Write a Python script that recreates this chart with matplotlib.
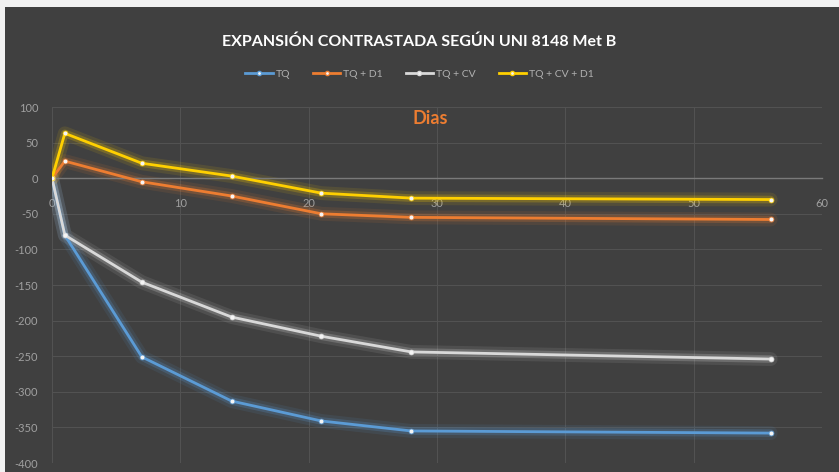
import matplotlib
matplotlib.use("Agg")
import matplotlib.pyplot as plt
from matplotlib.patches import Rectangle
from matplotlib.lines import Line2D

dias = [0, 1, 7, 14, 21, 28, 56]
tq = [0, -80, -251, -313, -341, -355, -358]
tq_d1 = [0, 24, -5, -25, -50, -55, -58]
tq_cv = [0, -80, -146, -195, -222, -244, -254]
tq_cv_d1 = [0, 63, 21, 3, -21, -28, -30]
series_names = ["TQ", "TQ + D1", "TQ + CV", "TQ + CV + D1"]
colors = ["#5B9BD5", "#ED7D31", "#D9D9D9", "#FFD000"]
x_ticks = [0, 10, 20, 30, 40, 50, 60]
y_ticks = [100, 50, 0, -50, -100, -150, -200, -250, -300, -350, -400]

plt.rcParams['font.family'] = ['Lato', 'DejaVu Sans']
plt.rcParams['axes.unicode_minus'] = False
bg = "#404040"

fig = plt.figure(figsize=(8.39, 4.72), dpi=100)
fig.patch.set_facecolor("#f2f2f2")
fig.patches.append(Rectangle((5/839, 0), 1, 1 - 7/472, transform=fig.transFigure,
                             facecolor=bg, edgecolor="none", zorder=-10))

ax = fig.add_axes([52/839, 9/472, (822-52)/839, (463-107)/472])
ax.set_facecolor(bg)
ax.set_xlim(0, 60)
ax.set_ylim(-400, 100)

for s in ["top", "right", "left"]:
    ax.spines[s].set_visible(False)
ax.spines["bottom"].set_position(("data", 0))
ax.spines["bottom"].set_color("#7a7a7a")
ax.spines["bottom"].set_linewidth(1.0)

ax.set_xticks(x_ticks)
ax.set_yticks(y_ticks)
ax.tick_params(axis="both", length=0, colors="#a0a0a0", labelsize=8)
ax.tick_params(axis="x", pad=14)
ax.tick_params(axis="y", pad=10)
ax.grid(True, color="#525252", linewidth=0.8)
ax.set_axisbelow(True)

data = [tq, tq_d1, tq_cv, tq_cv_d1]
for vals, c in zip(data, colors):
    ax.plot(dias, vals, color=c, lw=10, alpha=0.10, solid_capstyle="round", zorder=2)
    ax.plot(dias, vals, color=c, lw=5.5, alpha=0.22, solid_capstyle="round", zorder=2)
    ax.plot(dias, vals, color=c, lw=2, marker="o", markersize=3.5,
            markerfacecolor="#f5f5f5", markeredgecolor=c, markeredgewidth=0.5, zorder=3)

handles = [Line2D([0], [0], color=c, lw=2, marker="o", markersize=3,
                  markerfacecolor="#f5f5f5", markeredgecolor=c) for c in colors]
fig.legend(handles, series_names, loc="center", bbox_to_anchor=(0.5, 1 - 74/472),
           ncol=4, frameon=False, fontsize=7.5, labelcolor="#b0b0b0",
           handlelength=2.6, handletextpad=0.3, columnspacing=2.2)

fig.text(0.5, 1 - 42/472, "EXPANSIÓN CONTRASTADA SEGÚN UNI 8148 Met B",
         ha="center", va="center", color="white", fontsize=11.5, fontweight="bold")
fig.text(430/839, 1 - 119/472, "Dias", ha="center", va="center",
         color="#ED7D31", fontsize=13, fontweight="bold")

fig.savefig("out.png", dpi=100, facecolor=fig.get_facecolor())
